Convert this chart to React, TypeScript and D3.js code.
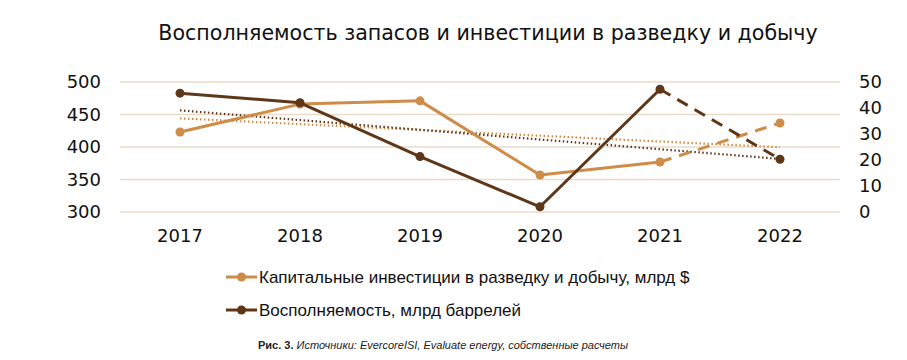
import React from "react";
import * as d3 from "d3";

const years = ["2017", "2018", "2019", "2020", "2021", "2022"];
const capex = [423, 466, 471, 357, 377, 437];
const replenishment = [45.7, 42, 21.3, 2, 47.2, 20.3];
const leftTicks = [300, 350, 400, 450, 500];
const rightTicks = [0, 10, 20, 30, 40, 50];

const title = "Восполняемость запасов и инвестиции в разведку и добычу";
const legendLabels = [
  "Капитальные инвестиции в разведку и добычу, млрд $",
  "Восполняемость, млрд баррелей",
];

const LIGHT = "#CF8B48";
const DARK = "#5E3618";
const GRID = "#EADBC9";
const FONT = "'DejaVu Sans', Verdana, sans-serif";
const LFONT = "'Liberation Sans', Arial, sans-serif";

function trend(values: number[]) {
  const n = values.length;
  const xs = values.map((_, i) => i);
  const mx = d3.mean(xs) as number;
  const my = d3.mean(values) as number;
  let sxy = 0, sxx = 0;
  xs.forEach((x, i) => { sxy += (x - mx) * (values[i] - my); sxx += (x - mx) ** 2; });
  const slope = sxy / sxx;
  return [my + slope * (0 - mx), my + slope * (n - 1 - mx)];
}

export default function App() {
  const W = 907, H = 360;
  const x = d3.scaleBand().domain(years).range([120, 840]);
  const cx = (y: string) => (x(y) as number) + x.bandwidth() / 2;
  const yL = d3.scaleLinear().domain([300, 500]).range([212, 82]);
  const yR = d3.scaleLinear().domain([0, 50]).range([212, 82]);

  const line = d3.line<[number, number]>().x(d => d[0]).y(d => d[1]);

  const ptsL: [number, number][] = capex.map((v, i) => [cx(years[i]), yL(v)]);
  const ptsR: [number, number][] = replenishment.map((v, i) => [cx(years[i]), yR(v)]);
  const n = years.length;

  const tL = trend(capex);
  const tR = trend(replenishment);

  return (
    <svg width={W} height={H} style={{ position: "absolute", left: 0, top: 0, background: "#fff" }}>
      <rect width={W} height={H} fill="#fff" />
      <text x={488} y={40} textAnchor="middle" fontFamily={FONT} fontSize={20.6} fill="#111">{title}</text>

      {leftTicks.map(t => (
        <line key={t} x1={120} x2={840} y1={yL(t)} y2={yL(t)} stroke={GRID} strokeWidth={1.5} />
      ))}
      {leftTicks.map(t => (
        <text key={t} x={101} y={yL(t)} dy="0.36em" textAnchor="end" fontFamily={FONT} fontSize={18} fill="#111">{t}</text>
      ))}
      {rightTicks.map(t => (
        <text key={t} x={859} y={yR(t)} dy="0.36em" textAnchor="start" fontFamily={FONT} fontSize={18} fill="#111">{t}</text>
      ))}
      {years.map(y => (
        <text key={y} x={cx(y)} y={236} dy="0.36em" textAnchor="middle" fontFamily={FONT} fontSize={18} fill="#111">{y}</text>
      ))}

      {/* trend lines */}
      <path d={line([[cx(years[0]), yL(tL[0])], [cx(years[n - 1]), yL(tL[1])]]) as string}
        stroke={LIGHT} strokeWidth={2.2} strokeDasharray="1.5,2.5" fill="none" />
      <path d={line([[cx(years[0]), yR(tR[0])], [cx(years[n - 1]), yR(tR[1])]]) as string}
        stroke={DARK} strokeWidth={2.2} strokeDasharray="1.5,2.5" fill="none" />

      {/* capex */}
      <path d={line(ptsL.slice(0, n - 1)) as string} stroke={LIGHT} strokeWidth={3} fill="none" strokeLinejoin="round" />
      <path d={line(ptsL.slice(n - 2)) as string} stroke={LIGHT} strokeWidth={3} fill="none" strokeDasharray="12,8" />
      {ptsL.map((p, i) => <circle key={i} cx={p[0]} cy={p[1]} r={4.5} fill={LIGHT} />)}

      {/* replenishment */}
      <path d={line(ptsR.slice(0, n - 1)) as string} stroke={DARK} strokeWidth={3} fill="none" strokeLinejoin="round" />
      <path d={line(ptsR.slice(n - 2)) as string} stroke={DARK} strokeWidth={3} fill="none" strokeDasharray="12,8" />
      {ptsR.map((p, i) => <circle key={i} cx={p[0]} cy={p[1]} r={4.5} fill={DARK} />)}

      {/* legend */}
      {legendLabels.map((lab, i) => {
        const ly = 277 + i * 33;
        const col = i === 0 ? LIGHT : DARK;
        return (
          <g key={i}>
            <line x1={226} x2={257} y1={ly} y2={ly} stroke={col} strokeWidth={3} />
            <circle cx={241.5} cy={ly} r={4.5} fill={col} />
            <text x={259} y={ly} dy="0.36em" fontFamily={LFONT} fontSize={17} fill="#111">{lab}</text>
          </g>
        );
      })}

      <text x={258} y={345} dy="0.35em" fontFamily={LFONT} fontSize={11} fill="#222">
        <tspan fontWeight="bold">Рис. 3. </tspan>
        <tspan fontStyle="italic">Источники: EvercoreISI, Evaluate energy, собственные расчеты</tspan>
      </text>
    </svg>
  );
}
